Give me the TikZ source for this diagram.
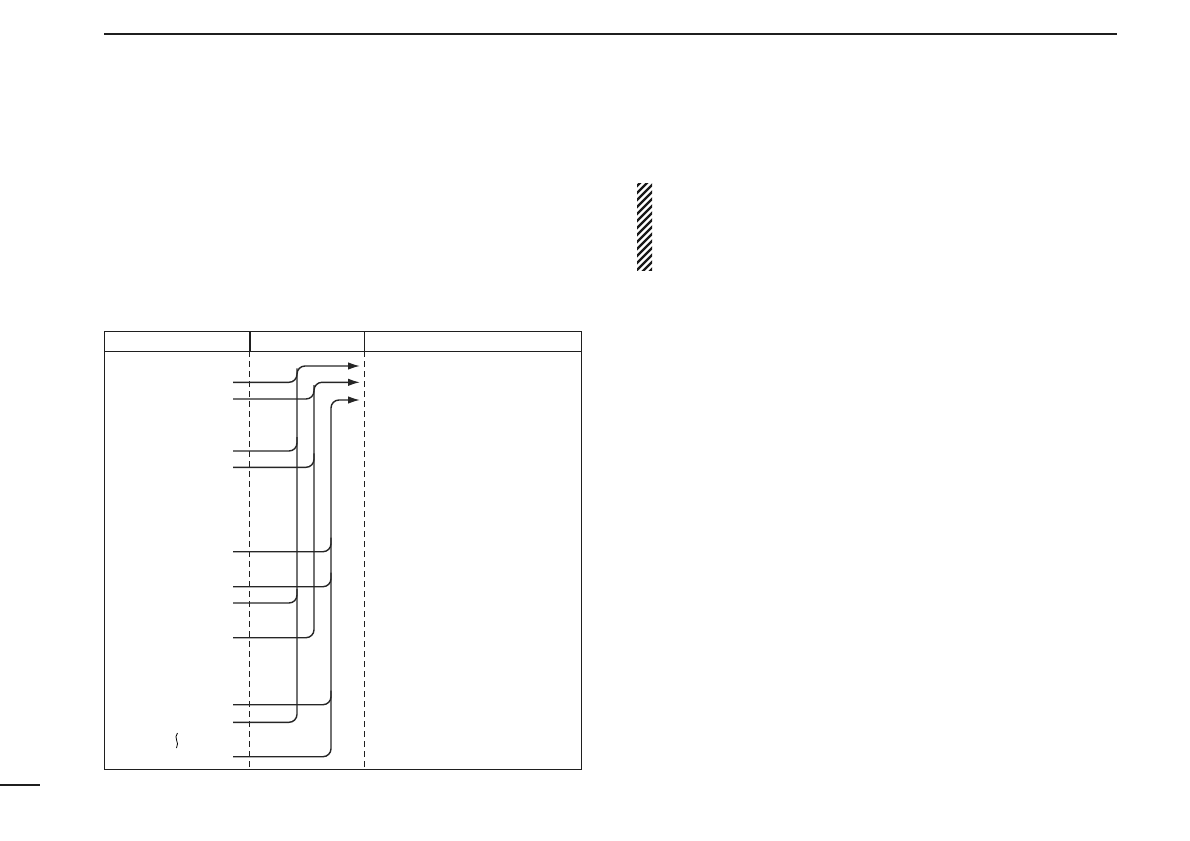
\documentclass[tikz,border=0pt]{standalone}
\usetikzlibrary{arrows.meta}
\begin{document}
\begin{tikzpicture}[x=1pt,y=-1pt,
  rule/.style={line width=1.3pt, draw=black!88},
  divider/.style={line width=1.1pt, draw=black!88, dash pattern=on 6pt off 4pt},
  wire/.style={line width=1.4pt, draw=black!85, rounded corners=8pt},
  tip/.style={-{Latex[length=12pt,width=7.5pt]}},
  hatch/.style={line width=2.4pt, draw=black!90}]
\useasboundingbox (0,0) rectangle (1190,840);
% page rules
\draw[line width=2.6pt, draw=black!88] (104,34) -- (1117,34);
\draw[line width=1.6pt, draw=black!88] (0,785) -- (40,785);
% table frame
\draw[rule] (104.3,331.7) rectangle (581.7,769.3);
\draw[rule] (104.3,351.3) -- (581.7,351.3);
\draw[line width=2.4pt, draw=black!88] (250,331.7) -- (250,351.3);
\draw[rule] (364.3,331.7) -- (364.3,351.3);
\draw[divider] (249.3,351.3) -- (249.3,769.3);
\draw[divider] (364.3,351.3) -- (364.3,769.3);
% coordinates
\coordinate (a1) at (360,366);
\coordinate (a2) at (360,382.3);
\coordinate (a3) at (360,400);
\foreach \n/\y in {r1/382.3, r2/399, r3/451, r4/467.3, r5/551.7, r6/586.7, r7/603, r8/637.7, r9/704.7, r10/722.3, r11/756.7}
  \coordinate (\n) at (233,\y);
% bus 1 (x = 297)
\draw[wire,tip] (r10) -| (297,366) -- (a1);
\foreach \n in {r1,r3,r7}
  \draw[wire] (\n) -| ([yshift=14pt]\n -| 297,0);
% bus 2 (x = 314)
\draw[wire,tip] (r8) -| (314,382.3) -- (a2);
\foreach \n in {r2,r4}
  \draw[wire] (\n) -| ([yshift=14pt]\n -| 314,0);
% bus 3 (x = 331)
\draw[wire,tip] (r11) -| (331,400) -- (a3);
\foreach \n in {r5,r6,r9}
  \draw[wire] (\n) -| ([yshift=14pt]\n -| 331,0);
% squiggle
\draw[line width=0.8pt] (177.5,733) .. controls (173,738) and (180,742) .. (176.5,748);
% hatched box
\begin{scope}
  \clip (637,183) rectangle (652,270);
  \foreach \i in {0,...,18}
    \draw[hatch] (630,186+7*\i) -- (662,154+7*\i);
\end{scope}
\end{tikzpicture}
\end{document}
